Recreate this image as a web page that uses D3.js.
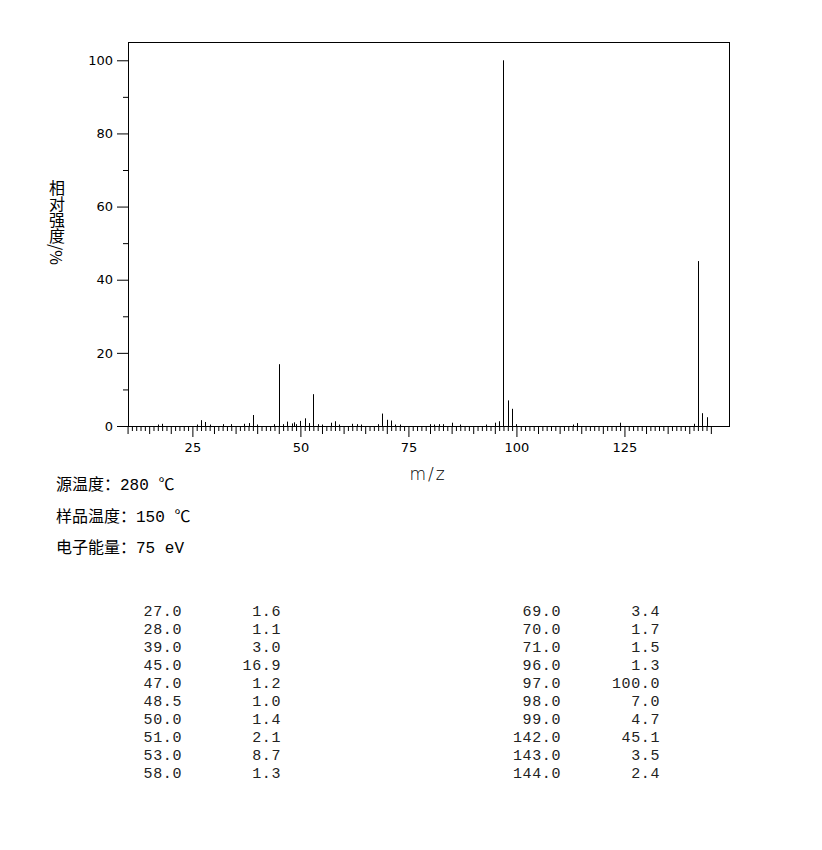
<!DOCTYPE html>
<html><head><meta charset="utf-8">
<script src="https://cdn.jsdelivr.net/npm/d3@7/dist/d3.min.js"></script>
<style>
body{margin:0;background:#fff;}
svg{display:block;}
</style></head>
<body>
<svg id="c" width="822" height="850"></svg>
<script>
// Spectrum peaks (m/z, relative intensity %)
const peakMz = [17,18,26,27,28,29,32,34,37,38,39,40,44,45,46,47,48,48.5,49,50,51,52,53,54,55,57,58,59,62,63,64,68,69,70,71,72,73,80,81,82,83,85,87,93,95,96,97,98,99,100,113,114,124,141,142,143,144];
const peakInt = [0.4,0.6,0.4,1.6,1.1,0.4,0.5,0.5,0.6,0.8,3.0,0.4,0.5,16.9,0.5,1.2,0.7,1.0,0.5,1.4,2.1,0.8,8.7,0.5,0.4,0.9,1.3,0.4,0.6,0.5,0.4,0.5,3.4,1.7,1.5,0.4,0.4,0.5,0.4,0.5,0.5,0.9,0.4,0.4,0.9,1.3,100.0,7.0,4.7,0.5,0.4,0.8,0.9,0.6,45.1,3.5,2.4];
// Table
const tableMz  = [27.0,28.0,39.0,45.0,47.0,48.5,50.0,51.0,53.0,58.0,69.0,70.0,71.0,96.0,97.0,98.0,99.0,142.0,143.0,144.0];
const tableInt = [1.6,1.1,3.0,16.9,1.2,1.0,1.4,2.1,8.7,1.3,3.4,1.7,1.5,1.3,100.0,7.0,4.7,45.1,3.5,2.4];
// Axis ticks
const xLabelTicks = [25,50,75,100,125];
const yLabelTicks = [0,20,40,60,80,100];
const yMinorTicks = [10,30,50,70,90];
const xMinorTicks = d3.range(10,146);
const xMidTicks = d3.range(10,146,5);
// Text
const yTitle = "相对强度/%";
const xTitle = "m/z";
const infoLines = ["源温度：280 ℃","样品温度：150 ℃","电子能量：75 eV"];

const svg = d3.select("#c");
const L=128, R=729, T=42, B=426;
const x = d3.scaleLinear().domain([10.1,149.2]).range([L,R]);
const y = d3.scaleLinear().domain([0,105]).range([B,T]);

const tickFont = "DejaVu Sans, sans-serif";

// peaks
svg.append("g").selectAll("line").data(peakMz.map((m,i)=>({m,v:peakInt[i]})))
  .join("line")
  .attr("x1",d=>Math.round(x(d.m))+0.5).attr("x2",d=>Math.round(x(d.m))+0.5)
  .attr("y1",y(0)).attr("y2",d=>y(d.v))
  .attr("stroke","#000").attr("stroke-width",1);

// x axis ticks
function xAxisGroup(vals,size,labels){
  const g = svg.append("g").attr("transform",`translate(0,${B})`)
    .call(d3.axisBottom(x).tickValues(vals).tickSize(size).tickSizeOuter(0)
      .tickFormat(labels?d3.format("d"):()=>""));
  g.select(".domain").remove();
  g.selectAll("line").attr("stroke","#000");
  g.selectAll("text").attr("font-family",tickFont).attr("font-size",13).attr("fill","#000").attr("dy","0.71em").attr("y",size+6);
  return g;
}
xAxisGroup(xMinorTicks.filter(v=>v%5!==0),5,false);
xAxisGroup(xMidTicks.filter(v=>v%25!==0),8,false);
xAxisGroup(xLabelTicks,11,true);

// y axis
const gy = svg.append("g").attr("transform",`translate(${L},0)`)
  .call(d3.axisLeft(y).tickValues(yLabelTicks).tickSize(11).tickPadding(4).tickFormat(d3.format("d")));
gy.select(".domain").remove();
gy.selectAll("line").attr("stroke","#000");
gy.selectAll("text").attr("font-family",tickFont).attr("font-size",13).attr("fill","#000");
const gy2 = svg.append("g").attr("transform",`translate(${L},0)`)
  .call(d3.axisLeft(y).tickValues(yMinorTicks).tickSize(5).tickFormat(()=>""));
gy2.select(".domain").remove();
gy2.selectAll("line").attr("stroke","#000");

// frame
svg.append("rect").attr("x",L+0.5).attr("y",T+0.5).attr("width",R-L).attr("height",B-T)
  .attr("fill","none").attr("stroke","#000").attr("stroke-width",1);

// axis titles
svg.append("text").attr("x",57).attr("y",180)
  .style("writing-mode","vertical-rl")
  .attr("font-family","Noto Sans CJK SC, sans-serif").attr("font-size",16)
  .attr("fill","#000").text(yTitle);
svg.append("text").attr("x",428).attr("y",480).attr("text-anchor","middle")
  .attr("font-family","DejaVu Sans, sans-serif").attr("font-size",17).attr("letter-spacing",2)
  .attr("font-weight",300).attr("fill","#000").text(xTitle);

// info text
svg.append("g").selectAll("text").data(infoLines).join("text")
  .attr("x",56).attr("y",(d,i)=>490+i*31.5)
  .attr("font-family","Liberation Mono, Noto Sans CJK SC, monospace").attr("font-size",16)
  .attr("fill","#000").text(d=>d);

// table
const mono = "Liberation Mono, monospace";
const rows = tableMz.map((m,i)=>({m,v:tableInt[i],col:Math.floor(i/10),row:i%10}));
const colMzX=[182,561], colIntX=[281,660];
const tg = svg.append("g");
tg.selectAll("text.m").data(rows).join("text").attr("class","m")
  .attr("x",d=>colMzX[d.col]).attr("y",d=>616+d.row*18).attr("text-anchor","end")
  .attr("font-family",mono).attr("font-size",15).attr("letter-spacing",0.6).attr("fill","#222")
  .text(d=>d.m.toFixed(1));
tg.selectAll("text.v").data(rows).join("text").attr("class","v")
  .attr("x",d=>colIntX[d.col]).attr("y",d=>616+d.row*18).attr("text-anchor","end")
  .attr("font-family",mono).attr("font-size",15).attr("letter-spacing",0.6).attr("fill","#222")
  .text(d=>d.v.toFixed(1));
</script>
</body></html>
